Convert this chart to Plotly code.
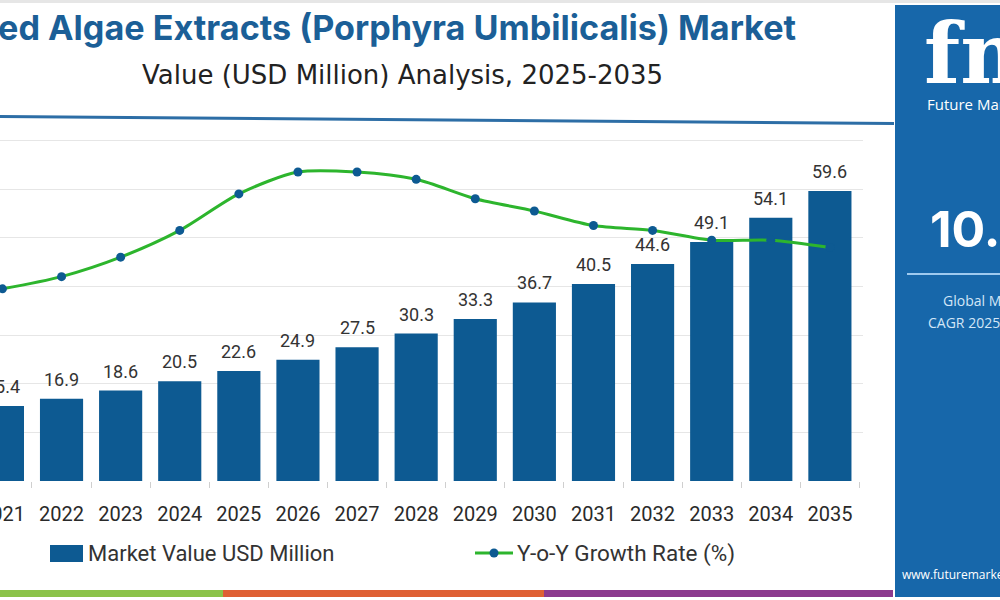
import plotly.graph_objects as go

# ---------------- data ----------------
years = [str(y) for y in range(2021, 2036)]
market_value = [15.4, 16.9, 18.6, 20.5, 22.6, 24.9, 27.5, 30.3, 33.3, 36.7, 40.5, 44.6, 49.1, 54.1, 59.6]
yoy_growth = [7.9, 8.4, 9.2, 10.3, 11.8, 12.7, 12.7, 12.4, 11.6, 11.1, 10.5, 10.3, 9.9, 9.9, 9.6]
value_labels = [f"{v:.1f}" for v in market_value]

title_text = "Red Algae Extracts (Porphyra Umbilicalis) Market"
subtitle_text = "Value (USD Million) Analysis, 2025-2035"
bar_name = "Market Value USD Million"
line_name = "Y-o-Y Growth Rate (%)"
cagr_text = "10.2%"

W, H = 1000, 600
BAR_COLOR = "#0d5a92"
LINE_COLOR = "#2db52d"
TITLE_COLOR = "#1b5f97"
PANEL_COLOR = "#1767aa"


def px(x):
    return x / W


def py(y):
    return 1 - y / H


fig = go.Figure()

fig.add_trace(go.Bar(
    x=years, y=market_value, name=bar_name,
    marker=dict(color=BAR_COLOR, line=dict(width=0)),
    yaxis="y", showlegend=False,
))

fig.add_trace(go.Scatter(
    x=years, y=yoy_growth, name=line_name, mode="lines+markers",
    line=dict(color=LINE_COLOR, width=3, shape="spline", smoothing=0.8),
    marker=dict(color=BAR_COLOR, size=9),
    yaxis="y2", showlegend=False,
))

annotations = []
for i, (v, lab) in enumerate(zip(market_value, value_labels)):
    annotations.append(dict(
        x=i, y=v, xref="x", yref="y", text=lab, showarrow=False,
        yanchor="bottom", yshift=7,
        font=dict(family="Roboto, Open Sans, sans-serif", size=18, color="#333333"),
    ))

# titles
annotations.append(dict(
    x=px(798), y=py(28), xref="paper", yref="paper", xanchor="right", yanchor="middle",
    text=f"<b>{title_text}</b>", showarrow=False,
    font=dict(family="Inter, Open Sans, sans-serif", size=34.2, color=TITLE_COLOR),
))
annotations.append(dict(
    x=px(665), y=py(75), xref="paper", yref="paper", xanchor="right", yanchor="middle",
    text=subtitle_text, showarrow=False,
    font=dict(family="DejaVu Sans, sans-serif", size=26, color="#222222"),
))

# legend texts
annotations.append(dict(
    x=px(86), y=py(553), xref="paper", yref="paper", xanchor="left", yanchor="middle",
    text=bar_name, showarrow=False,
    font=dict(family="Roboto, sans-serif", size=22, color="#333333"),
))
annotations.append(dict(
    x=px(515), y=py(553), xref="paper", yref="paper", xanchor="left", yanchor="middle",
    text=line_name, showarrow=False,
    font=dict(family="Roboto, sans-serif", size=22.5, color="#333333"),
))

# right panel texts
annotations += [
    dict(x=px(922), y=py(54), xref="paper", yref="paper", xanchor="left", yanchor="middle",
         text="<b>fmi</b>", showarrow=False,
         font=dict(family="DejaVu Serif, serif", size=84, color="#ffffff")),
    dict(x=px(925), y=py(104), xref="paper", yref="paper", xanchor="left", yanchor="middle",
         text="Future Market Insights", showarrow=False,
         font=dict(family="Open Sans, sans-serif", size=15, color="#ffffff")),
    dict(x=px(928), y=py(229), xref="paper", yref="paper", xanchor="left", yanchor="middle",
         text=f"<b>{cagr_text}</b>", showarrow=False,
         font=dict(family="Inter, Open Sans, sans-serif", size=50, color="#ffffff")),
    dict(x=px(941), y=py(300), xref="paper", yref="paper", xanchor="left", yanchor="middle",
         text="Global Market Value", showarrow=False,
         font=dict(family="Open Sans, sans-serif", size=14, color="#d3e6f7")),
    dict(x=px(926), y=py(322), xref="paper", yref="paper", xanchor="left", yanchor="middle",
         text="CAGR 2025 to 2035", showarrow=False,
         font=dict(family="Open Sans, sans-serif", size=14, color="#d3e6f7")),
    dict(x=px(900), y=py(574), xref="paper", yref="paper", xanchor="left", yanchor="middle",
         text="www.futuremarketinsights.com", showarrow=False,
         font=dict(family="Open Sans, sans-serif", size=12, color="#ffffff")),
]

shapes = [
    # top grey edge
    dict(type="rect", xref="paper", yref="paper", x0=0, x1=1, y0=py(3), y1=1,
         fillcolor="#e6e6e6", line=dict(width=0), layer="below"),
    # separator line under subtitle
    dict(type="line", xref="paper", yref="paper", x0=0, x1=px(894), y0=py(116.5), y1=py(123.5),
         line=dict(color="#2d6ea6", width=3)),
    # right panel
    dict(type="rect", xref="paper", yref="paper", x0=px(895), x1=1.01, y0=py(597), y1=py(5),
         fillcolor=PANEL_COLOR, line=dict(width=0)),
    dict(type="line", xref="paper", yref="paper", x0=px(907), x1=1.01, y0=py(274), y1=py(274),
         line=dict(color="#9fcaef", width=2)),
    # legend swatches
    dict(type="rect", xref="paper", yref="paper", x0=px(50), x1=px(83), y0=py(562), y1=py(545),
         fillcolor=BAR_COLOR, line=dict(width=0)),
    dict(type="line", xref="paper", yref="paper", x0=px(475), x1=px(513), y0=py(553), y1=py(553),
         line=dict(color=LINE_COLOR, width=3)),
    dict(type="circle", xref="paper", yref="paper", x0=px(489.5), x1=px(498.5), y0=py(557.5), y1=py(548.5),
         fillcolor=BAR_COLOR, line=dict(width=0)),
    # bottom colour strip
    dict(type="rect", xref="paper", yref="paper", x0=0, x1=px(223), y0=py(597), y1=py(590),
         fillcolor="#8bc34a", line=dict(width=0)),
    dict(type="rect", xref="paper", yref="paper", x0=px(223), x1=px(544), y0=py(597), y1=py(590),
         fillcolor="#df6034", line=dict(width=0)),
    dict(type="rect", xref="paper", yref="paper", x0=px(544), x1=px(893), y0=py(597), y1=py(590),
         fillcolor="#8c3a8e", line=dict(width=0)),
]

fig.update_layout(
    width=W, height=H,
    margin=dict(l=0, r=0, t=0, b=0, autoexpand=False),
    paper_bgcolor="#ffffff", plot_bgcolor="#ffffff",
    bargap=0.27,
    showlegend=False,
    xaxis=dict(
        type="category", domain=[0, px(863)], range=[-0.041, 14.56],
        automargin=False,
        tickson="boundaries", ticks="outside", ticklen=6, tickcolor="#cfcfcf",
        showline=False, showgrid=False, zeroline=False,
        ticklabelstandoff=19,
        tickfont=dict(family="Roboto, Open Sans, sans-serif", size=20, color="#2a2a2a"),
    ),
    yaxis=dict(
        domain=[py(481), py(137)], range=[0, 70.7], dtick=10,
        automargin=False,
        showgrid=True, gridcolor="#e6e6e6", gridwidth=1,
        showticklabels=False, zeroline=False, showline=False, ticks="",
    ),
    yaxis2=dict(
        overlaying="y", range=[0, 14.14], showgrid=False, showticklabels=False,
        automargin=False,
        zeroline=False, showline=False, side="right",
    ),
    annotations=annotations,
    shapes=shapes,
)

fig.write_html("out.html")
